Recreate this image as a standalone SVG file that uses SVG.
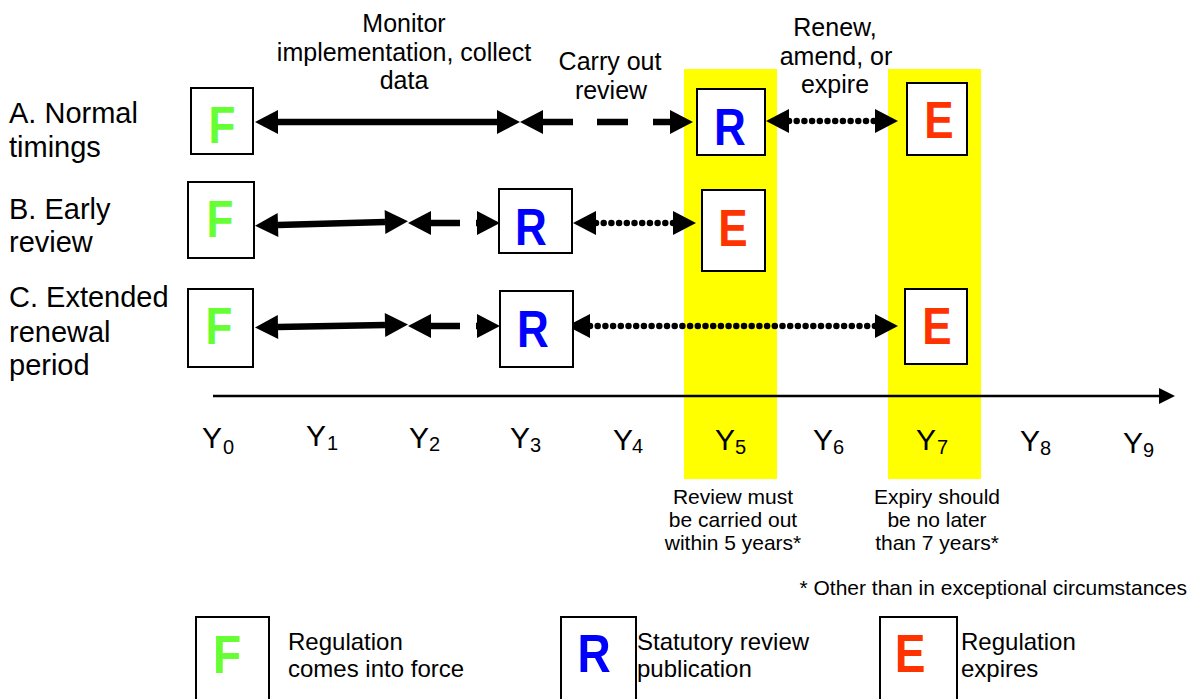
<svg xmlns="http://www.w3.org/2000/svg" width="1200" height="699" viewBox="0 0 1200 699">
<style>
text{font-family:"Liberation Sans",Arial,sans-serif;fill:#000}
.lbl{font-size:25px;text-anchor:middle}
.row{font-size:29px}
.yl{font-size:30px}
.ys{font-size:20px}
.note{font-size:21px;text-anchor:middle}
.leg{font-size:24px}
.box{fill:#fff;stroke:#000;stroke-width:2}
.let{font-size:44px;font-weight:bold;text-anchor:middle}
.lg{font-size:46px;font-weight:bold;text-anchor:middle}
.F{fill:#66FF33}.R{fill:#0000FF}.E{fill:#FF3300}
.solid{stroke:#000;stroke-width:6.5;fill:none;marker-start:url(#ah);marker-end:url(#ah)}
.dash{stroke:#000;stroke-width:6.5;fill:none;marker-start:url(#ah);marker-end:url(#ah)}
.dot{stroke:#000;stroke-width:6.5;fill:none;stroke-linecap:round;stroke-dasharray:0 7.7;marker-start:url(#ah);marker-end:url(#ah)}
.band{fill:#FFFF00}
</style>
<defs>
<marker id="ah" markerUnits="userSpaceOnUse" markerWidth="24" markerHeight="24" refX="0" refY="12" orient="auto-start-reverse" overflow="visible">
<path d="M0,0 L23,12 L0,24 z" fill="#000"/>
</marker>
<marker id="axh" markerUnits="userSpaceOnUse" markerWidth="16" markerHeight="16" refX="0" refY="8" orient="auto" overflow="visible">
<path d="M0,0 L16,8 L0,16 z" fill="#000"/>
</marker>
</defs>
<rect width="1200" height="699" fill="#fff"/>
<g id="bands">
<rect class="band" x="684" y="69" width="93" height="410"/>
<rect class="band" x="888" y="69" width="93" height="410"/>
</g>
<g id="top-labels">
<text class="lbl" x="404" y="32">Monitor</text>
<text class="lbl" x="404" y="61">implementation, collect</text>
<text class="lbl" x="404" y="89">data</text>
<text class="lbl" x="610" y="70">Carry out</text>
<text class="lbl" x="611" y="99">review</text>
<text class="lbl" x="835" y="36">Renew,</text>
<text class="lbl" x="836" y="65">amend, or</text>
<text class="lbl" x="835" y="93">expire</text>
</g>
<g id="row-labels">
<text class="row" x="9" y="123">A. Normal</text>
<text class="row" x="9" y="157">timings</text>
<text class="row" x="9" y="219">B. Early</text>
<text class="row" x="9" y="252">review</text>
<text class="row" x="9" y="307">C. Extended</text>
<text class="row" x="9" y="342">renewal</text>
<text class="row" x="9" y="375">period</text>
</g>
<g id="connectors">
<path class="solid" d="M278,122 L497,122"/>
<path class="dash" d="M543,122 H573 M597,122 H628 M653,122 H670"/>
<path class="dot" d="M789,121 L875,121"/>
<path class="solid" d="M278,225 L385,222"/>
<path class="dash" d="M431,223 H460 M476,223 H477"/>
<path class="dot" d="M596,223 L673,223"/>
<path class="solid" d="M278,327 L385,325"/>
<path class="dash" d="M431,326 H460 M476,326 H477"/>
<path class="dot" d="M590,326 L875,326"/>
<line x1="213" y1="396" x2="1159" y2="396" stroke="#000" stroke-width="2.5" marker-end="url(#axh)"/>
</g>
<g id="node-A-F"><rect class="box" x="191" y="88" width="62" height="66"/><text class="let F" transform="translate(222,143) scale(1,1.16)">F</text></g>
<g id="node-A-R"><rect class="box" x="697" y="89" width="68" height="66"/><text class="let R" transform="translate(730,145) scale(1,1.16)">R</text></g>
<g id="node-A-E"><rect class="box" x="907" y="83" width="60" height="72"/><text class="let E" transform="translate(939,138) scale(1,1.16)">E</text></g>
<g id="node-B-F"><rect class="box" x="188" y="182" width="66" height="76"/><text class="let F" transform="translate(220,237) scale(1,1.16)">F</text></g>
<g id="node-B-R"><rect class="box" x="499" y="189" width="73" height="64"/><text class="let R" transform="translate(531,245) scale(1,1.16)">R</text></g>
<g id="node-B-E"><rect class="box" x="702" y="190" width="63" height="81"/><text class="let E" transform="translate(733,246) scale(1,1.16)">E</text></g>
<g id="node-C-F"><rect class="box" x="188" y="289" width="65" height="78"/><text class="let F" transform="translate(219,344) scale(1,1.16)">F</text></g>
<g id="node-C-R"><rect class="box" x="500" y="291" width="73" height="76"/><text class="let R" transform="translate(533,347) scale(1,1.16)">R</text></g>
<g id="node-C-E"><rect class="box" x="905" y="289" width="62" height="75"/><text class="let E" transform="translate(937,344) scale(1,1.16)">E</text></g>
<g id="axis-labels">
<text class="yl" x="202" y="448">Y<tspan class="ys" x="223" y="454">0</tspan></text>
<text class="yl" x="306" y="446">Y<tspan class="ys" x="327" y="450">1</tspan></text>
<text class="yl" x="409" y="448">Y<tspan class="ys" x="429" y="451">2</tspan></text>
<text class="yl" x="510" y="448">Y<tspan class="ys" x="530" y="452">3</tspan></text>
<text class="yl" x="613" y="450">Y<tspan class="ys" x="632" y="453">4</tspan></text>
<text class="yl" x="715" y="450">Y<tspan class="ys" x="735" y="454">5</tspan></text>
<text class="yl" x="813" y="450">Y<tspan class="ys" x="833" y="454">6</tspan></text>
<text class="yl" x="916" y="450">Y<tspan class="ys" x="937" y="454">7</tspan></text>
<text class="yl" x="1020" y="451">Y<tspan class="ys" x="1040" y="455">8</tspan></text>
<text class="yl" x="1123" y="453">Y<tspan class="ys" x="1143" y="457">9</tspan></text>
</g>
<g id="notes">
<text class="note" x="733" y="504">Review must</text>
<text class="note" x="733" y="527">be carried out</text>
<text class="note" x="733" y="550">within 5 years*</text>
<text class="note" x="937" y="504">Expiry should</text>
<text class="note" x="937" y="527">be no later</text>
<text class="note" x="937" y="550">than 7 years*</text>
<text x="1187" y="595" style="font-size:21px;text-anchor:end">* Other than in exceptional circumstances</text>
</g>
<g id="legend-F"><rect class="box" x="196" y="617" width="73" height="95"/><text class="lg F" transform="translate(227,673) scale(1,1.16)">F</text><text class="leg" x="288" y="650">Regulation</text><text class="leg" x="288" y="677">comes into force</text></g>
<g id="legend-R"><rect class="box" x="561" y="617" width="75" height="95"/><text class="lg R" transform="translate(594,672) scale(1,1.16)">R</text><text class="leg" x="637" y="650">Statutory review</text><text class="leg" x="637" y="677">publication</text></g>
<g id="legend-E"><rect class="box" x="880" y="617" width="77" height="95"/><text class="lg E" transform="translate(910,672) scale(1,1.16)">E</text><text class="leg" x="961" y="650">Regulation</text><text class="leg" x="961" y="677">expires</text></g>
</svg>
